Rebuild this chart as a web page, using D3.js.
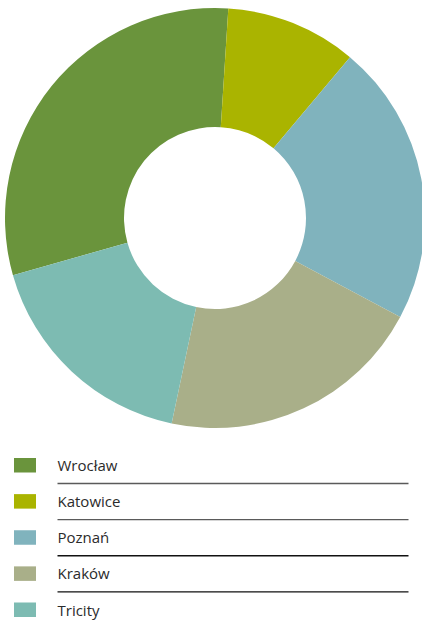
<!DOCTYPE html>
<html>
<head>
<meta charset="utf-8">
<script src="https://cdn.jsdelivr.net/npm/d3@7"></script>
<style>
  html, body { margin: 0; padding: 0; background: #fff; }
  svg { display: block; }
</style>
</head>
<body>
<svg id="chart" width="422" height="621"></svg>
<script>
// Share by city (percent)
const cities = ["Wrocław", "Katowice", "Poznań", "Kraków", "Tricity"];
const shares = [30.4, 10.1, 21.7, 20.5, 17.3];
const colors = ["#6a943c", "#aab400", "#80b3bd", "#a9af89", "#7dbbb2"];

const svg = d3.select("#chart");
const cx = 215, cy = 218, outerR = 210, innerR = 91;

// First slice begins at the lower left and the rest follow clockwise
const startDeg = -105.8;
const pie = d3.pie()
  .sort(null)
  .value(d => d.v)
  .startAngle(startDeg * Math.PI / 180)
  .endAngle((startDeg + 360) * Math.PI / 180);

const arc = d3.arc().innerRadius(innerR).outerRadius(outerR);

const data = cities.map((c, i) => ({ name: c, v: shares[i], color: colors[i] }));

svg.append("g")
  .attr("transform", `translate(${cx},${cy})`)
  .selectAll("path")
  .data(pie(data))
  .join("path")
  .attr("d", arc)
  .attr("fill", d => d.data.color);

// Legend
const rowY = d3.scalePoint().domain(cities).range([458, 602.5]);
const legend = svg.append("g");
const rows = legend.selectAll("g.row")
  .data(data)
  .join("g")
  .attr("class", "row")
  .attr("transform", d => `translate(0,${rowY(d.name)})`);

rows.append("rect")
  .attr("x", 14).attr("y", 0)
  .attr("width", 22).attr("height", 14.5)
  .attr("fill", d => d.color);

rows.append("text")
  .attr("x", 57.5).attr("y", 13)
  .attr("font-family", "'Open Sans', sans-serif")
  .attr("font-size", 15)
  .attr("fill", "#2b2b2b")
  .text(d => d.name);

// Divider lines between rows
rows.filter((d, i) => i < cities.length - 1)
  .append("line")
  .attr("x1", 57.5).attr("x2", 408.5)
  .attr("y1", 25.5).attr("y2", 25.5)
  .attr("stroke", (d, i) => i < 2 ? "#5a5a5a" : "#111")
  .attr("stroke-width", 1.3);
</script>
</body>
</html>
